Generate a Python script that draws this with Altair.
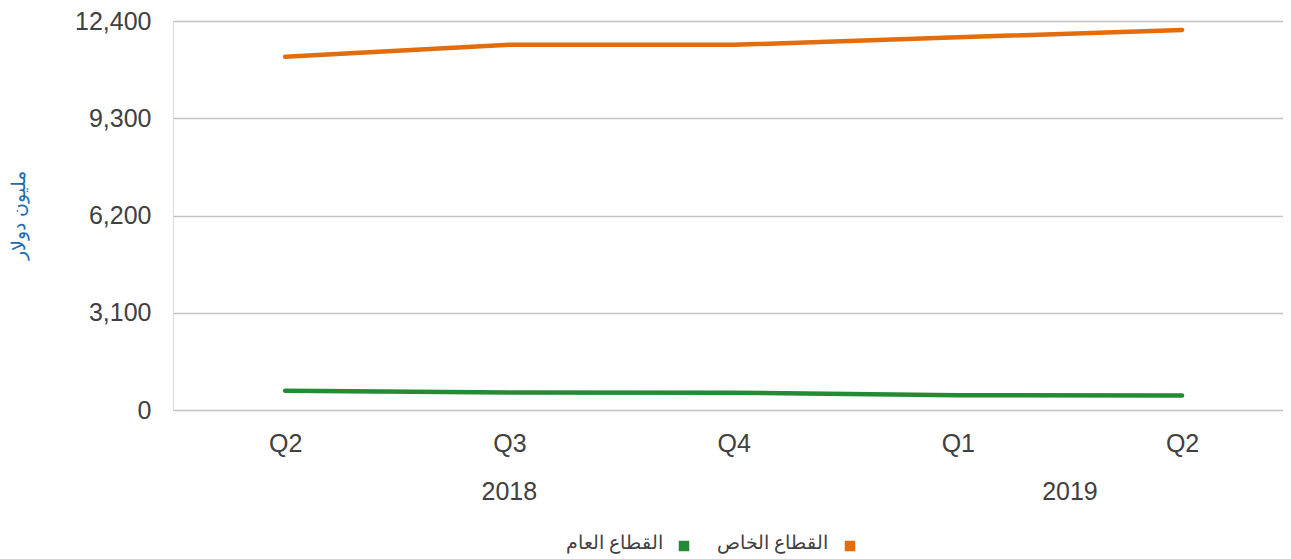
import altair as alt
import pandas as pd

# ---- data ----
quarters = ["Q2", "Q3", "Q4", "Q1", "Q2"]
years = ["2018", "2018", "2018", "2019", "2019"]
private_sector = [11260, 11640, 11640, 11880, 12115]   # القطاع الخاص
public_sector = [615, 560, 550, 470, 460]              # القطاع العام
series_names = ["القطاع الخاص", "القطاع العام"]
series_colors = ["#E46C0A", "#248A34"]
y_ticks = [0, 3100, 6200, 9300, 12400]

FONT = "Liberation Sans"
TXT = "#404040"

idx = list(range(len(quarters)))
rows = []
for i in idx:
    rows.append({"i": i, "series": series_names[0], "value": private_sector[i]})
    rows.append({"i": i, "series": series_names[1], "value": public_sector[i]})
df = pd.DataFrame(rows)

ydf = pd.DataFrame({"i": idx, "year": years}).groupby("year", as_index=False)["i"].mean()

label_expr = "[" + ",".join("'" + q + "'" for q in quarters) + "][datum.value]"

xscale = alt.Scale(domain=[-0.5, 4.45], nice=False, zero=False)

lines = alt.Chart(df).mark_line(strokeWidth=4.5, strokeCap="round", strokeJoin="round").encode(
    x=alt.X("i:Q", scale=xscale,
            axis=alt.Axis(values=idx, labelExpr=label_expr, grid=False, domain=False, ticks=False,
                          labelFontSize=25, labelColor=TXT, labelFont=FONT, labelPadding=21,
                          labelFlush=False, labelOverlap=False, title=None)),
    y=alt.Y("value:Q", scale=alt.Scale(domain=[0, 12400], nice=False),
            axis=alt.Axis(values=y_ticks, format=",.0f", grid=True, gridColor="#C4C4C4", gridWidth=1.6,
                          domain=False, ticks=False, labelFontSize=25, labelColor=TXT, labelFont=FONT,
                          labelPadding=22, title="مليون دولار", titleColor="#1F6AB0",
                          titleFontSize=19, titleFontWeight="normal", titleFont=FONT,
                          titleAngle=270, titleX=-155, titleY=194, titleAlign="center",
                          titleBaseline="middle")),
    color=alt.Color("series:N", scale=alt.Scale(domain=series_names, range=series_colors), legend=None),
    detail="series:N",
)

year_text = alt.Chart(ydf).mark_text(fontSize=25, color=TXT, font=FONT, baseline="middle", align="center").encode(
    x=alt.X("i:Q", scale=xscale),
    y=alt.value(471),
    text="year:N",
)

legend_df = pd.DataFrame({"series": series_names, "color": series_colors})
sq_pos = [677, 511]
tx_pos = [655, 490]
legend_layers = []
for k in range(len(series_names)):
    sub = legend_df.iloc[[k]]
    legend_layers.append(
        alt.Chart(sub).mark_point(shape="square", filled=True, size=110, opacity=1).encode(
            x=alt.value(sq_pos[k]), y=alt.value(525), color=alt.value(series_colors[k]))
    )
    legend_layers.append(
        alt.Chart(sub).mark_text(fontSize=19, color=TXT, font=FONT, align="right", baseline="middle").encode(
            x=alt.value(tx_pos[k]), y=alt.value(522), text="series:N")
    )

chart = alt.layer(lines, year_text, *legend_layers).properties(
    width=1110, height=389,
    padding={"left": 165, "top": 13, "right": 0, "bottom": 150},
    autosize=alt.AutoSizeParams(type="none"),
).configure_view(stroke=None).configure(background="white")

chart.save("out.html", embed_options={"renderer": "svg", "actions": False})
